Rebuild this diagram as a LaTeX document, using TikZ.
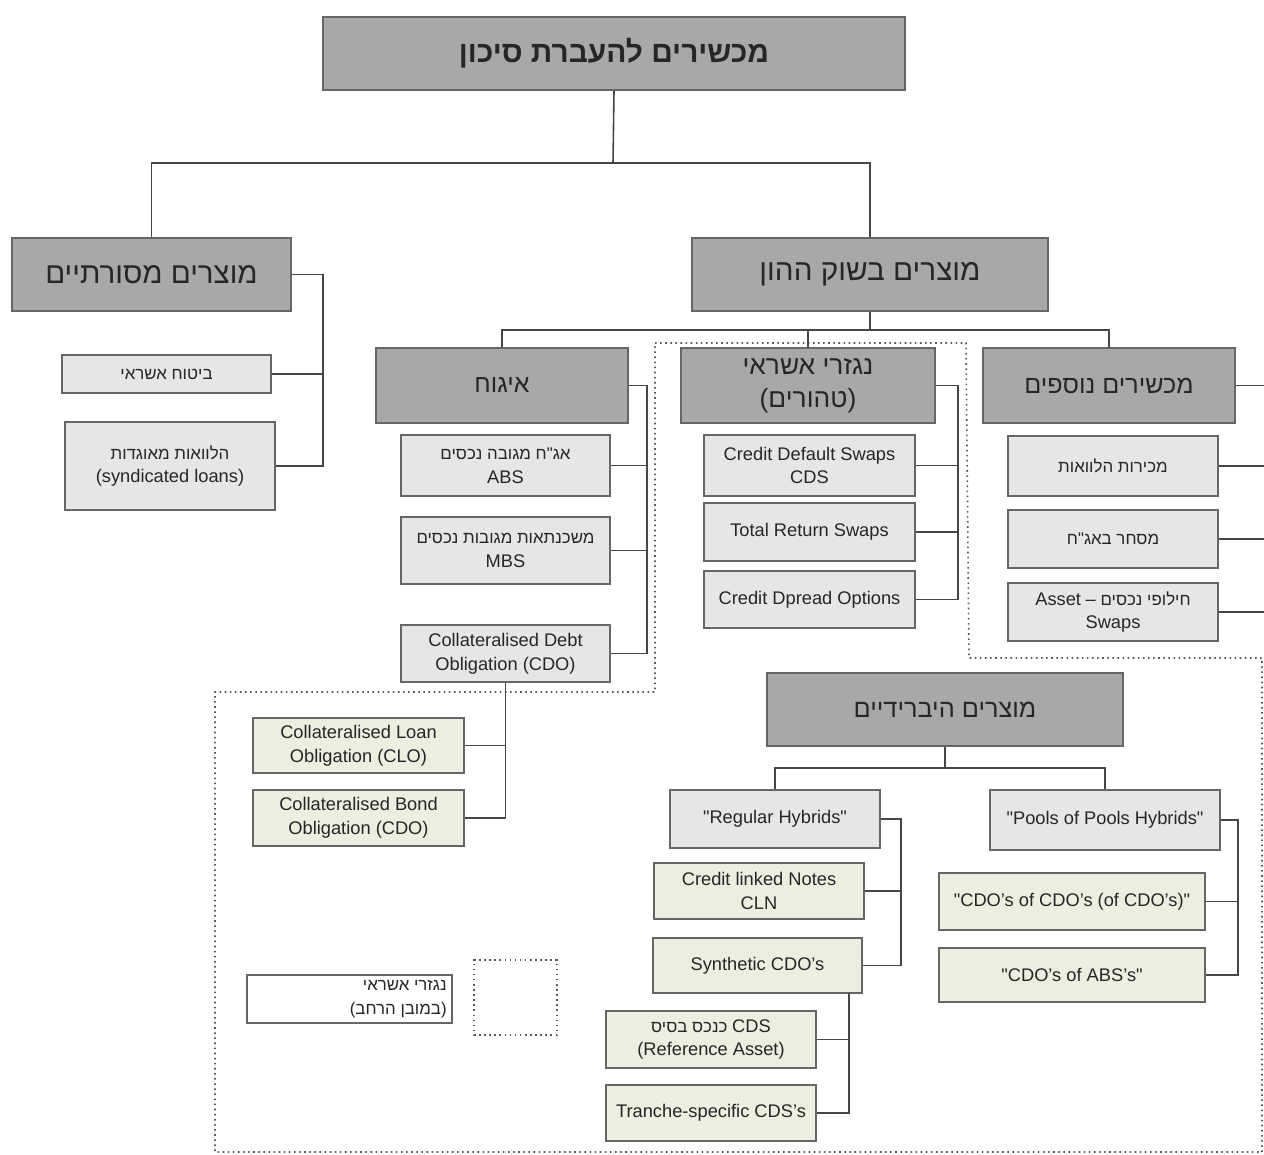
\documentclass[tikz,border=0pt]{standalone}
\usepackage{fontspec}
\setmainfont{Liberation Sans}
\newfontfamily\heb[Script=Hebrew]{Liberation Sans}
\newfontfamily\plainfont{Liberation Sans}
\TeXXeTstate=1
\definecolor{dk}{RGB}{168,168,168}
\definecolor{lt}{RGB}{230,230,230}
\definecolor{bg}{RGB}{237,237,224}
\definecolor{ln}{RGB}{70,70,70}
\newcommand\bx[7]{\node[#6, minimum width={(#4-#2)*0.02cm}, minimum height={(#5-#3)*0.02cm}] (#1) at ({(#2+#4)/2},{(#3+#5)/2}) {#7};}
\newcommand\R[1]{\beginR #1\endR}
\newcommand\lp{{\plainfont(}}
\newcommand\rp{{\plainfont)}}
\newcommand\q{{\plainfont\char34}}
\newcommand\hs{\heb\fontsize{9.6}{13.5}\selectfont}
\newcommand\hb[1]{\heb\fontsize{#1}{19}\selectfont}
\begin{document}
\begin{tikzpicture}[x=0.02cm,y=-0.02cm,
  base/.style={draw=black!60, line width=1.1pt, inner sep=0pt, align=center, text=black!85},
  dark/.style={base, fill=dk, font=\hb{15}},
  light/.style={base, fill=lt, font=\fontsize{10.4}{13.5}\selectfont},
  beige/.style={base, fill=bg, font=\fontsize{10.4}{13.5}\selectfont},
  conn/.style={draw=ln, line width=0.9pt},
  dotreg/.style={draw=black!65, line width=0.9pt, dotted}]
\useasboundingbox (0,0) rectangle (1264,1155);
\fill[white] (0,0) rectangle (1264,1155);
% dotted region: credit derivatives in the broad sense
\draw[dotreg] (655,343) -- (966,343) -- (969,658) -- (1262,658) -- (1262,1152) -- (215,1152) -- (215,692) -- (655,692) -- cycle;
% boxes
\bx{title}{323}{17}{905}{90}{dark,font=\heb\bfseries\fontsize{17}{20}\selectfont}{\R{מכשירים להעברת סיכון}}
\bx{trad}{12}{238}{291}{311}{dark,font=\hb{16.8}}{\R{מוצרים מסורתיים}}
\bx{cap}{692}{238}{1048}{311}{dark,font=\hb{16.9}}{\R{מוצרים בשוק ההון}}
\bx{ins}{62}{355}{271}{393}{light,font=\hs}{\R{ביטוח אשראי}}
\bx{synd}{65}{422}{275}{510}{light}{{\hs\R{הלוואות מאוגדות}}\\(syndicated loans)}
\bx{igu}{376}{348}{628}{423}{dark,font=\hb{14.2}}{\R{איגוח}}
\bx{cd}{681}{348}{935}{423}{dark,font=\hb{15}}{\R{נגזרי אשראי}\\\lp\R{טהורים}\rp}
\bx{add}{983}{348}{1235}{423}{dark,font=\hb{14.3}}{\R{מכשירים נוספים}}
\bx{abs}{401}{435}{610}{496}{light}{{\hs\R{אג"ח מגובה נכסים}}\\ABS}
\bx{mbs}{401}{517}{610}{584}{light}{{\hs\R{משכנתאות מגובות נכסים}}\\MBS}
\bx{cdo}{401}{625}{610}{682}{light}{Collateralised Debt\\Obligation (CDO)}
\bx{clo}{253}{718}{464}{773}{beige}{Collateralised Loan\\Obligation (CLO)}
\bx{cbo}{253}{790}{464}{846}{beige}{Collateralised Bond\\Obligation (CDO)}
\bx{cds}{704}{435}{915}{496}{light}{Credit Default Swaps\\CDS}
\bx{trs}{704}{503}{915}{561}{light}{Total Return Swaps}
\bx{cso}{704}{571}{915}{628}{light}{Credit Dpread Options}
\bx{loan}{1008}{436}{1218}{496}{light,font=\hs}{\R{מכירות הלוואות}}
\bx{bond}{1008}{510}{1218}{568}{light,font=\hs}{\R{מסחר באג"ח}}
\bx{asw}{1008}{583}{1218}{641}{light}{{\hs\R{חילופי נכסים {\plainfont\fontsize{10.4}{13.5}\selectfont –} \beginL{\plainfont\fontsize{10.4}{13.5}\selectfont Asset}\endL}}\\Swaps}
\bx{hyb}{767}{673}{1123}{746}{dark,font=\hb{14.4}}{\R{מוצרים היברידיים}}
\bx{reg}{670}{790}{880}{848}{light}{\q Regular Hybrids\q}
\bx{pool}{990}{790}{1220}{850}{light}{\q Pools of Pools Hybrids\q}
\bx{cln}{654}{863}{864}{919}{beige}{Credit linked Notes\\CLN}
\bx{syn}{653}{938}{862}{993}{beige}{Synthetic CDO's}
\bx{ref}{606}{1011}{816}{1068}{beige}{{\hs\R{\beginL{\plainfont\fontsize{10.4}{13.5}\selectfont CDS}\endL{} כנכס בסיס}}\\(Reference Asset)}
\bx{tr}{606}{1085}{816}{1141}{beige}{Tranche-specific CDS's}
\bx{cc}{939}{873}{1205}{930}{beige}{\q CDO's of CDO's (of CDO's)\q}
\bx{ca}{939}{948}{1205}{1002}{beige}{\q CDO's of ABS's\q}
% legend
\node[draw=black!60, line width=1.1pt, fill=white, minimum width={205*0.02cm}, minimum height={48*0.02cm}, inner sep=0pt] (leg) at (349.5,999) {};
\node[anchor=east, align=right, inner sep=0pt, font=\hs, text=black!85] (legt) at (447,999) {\R{נגזרי אשראי}\\\lp\R{במובן הרחב}\rp};
\node[dotreg, minimum width={83*0.02cm}, minimum height={75*0.02cm}, inner sep=0pt] (legd) at (515.5,997.5) {};
% connectors
\coordinate (j1) at (613,163);
\draw[conn] (title.south) -- (j1);
\draw[conn] (trad.north) |- (j1) -| (cap.north);
\draw[conn] (trad.east) -- ++(31,0) coordinate (b1) -- (b1 |- synd.east) -- (synd.east);
\draw[conn] (ins.east) -- (ins.east -| b1);
\coordinate (j2) at (870,330);
\draw[conn] (cap.south) -- (j2);
\draw[conn] (igu.north) |- (j2) -| (add.north);
\draw[conn] (cd.north) -- (cd.north |- j2);
% securitisation
\draw[conn] (igu.east) -- ++(18,0) coordinate (b2) -- (b2 |- cdo.east) -- (cdo.east);
\draw[conn] (abs.east) -- (abs.east -| b2);
\draw[conn] (mbs.east) -- (mbs.east -| b2);
\draw[conn] (cdo.south) -- (cdo.south |- cbo.east) -- (cbo.east);
\draw[conn] (clo.east) -- (clo.east -| cdo.south);
% credit derivatives
\draw[conn] (cd.east) -- ++(22,0) coordinate (b3) -- (b3 |- cso.east) -- (cso.east);
\draw[conn] (cds.east) -- (cds.east -| b3);
\draw[conn] (trs.east) -- (trs.east -| b3);
% additional instruments (bracket beyond the edge)
\coordinate (edge) at (1264,0);
\draw[conn] (add.east) -- (add.east -| edge);
\draw[conn] (loan.east) -- (loan.east -| edge);
\draw[conn] (bond.east) -- (bond.east -| edge);
\draw[conn] (asw.east) -- (asw.east -| edge);
% hybrids
\coordinate (j3) at (945,768);
\draw[conn] (hyb.south) -- (j3);
\draw[conn] (reg.north) |- (j3) -| (pool.north);
\draw[conn] (reg.east) -- ++(20,0) coordinate (b5) -- (b5 |- syn.east) -- (syn.east);
\draw[conn] (cln.east) -- (cln.east -| b5);
\coordinate (s1) at (849,993);
\draw[conn] (s1) |- (tr.east);
\draw[conn] (ref.east) -- (ref.east -| s1);
\draw[conn] (pool.east) -- ++(17,0) coordinate (b6) -- (b6 |- ca.east) -- (ca.east);
\draw[conn] (cc.east) -- (cc.east -| b6);
\end{tikzpicture}
\end{document}
